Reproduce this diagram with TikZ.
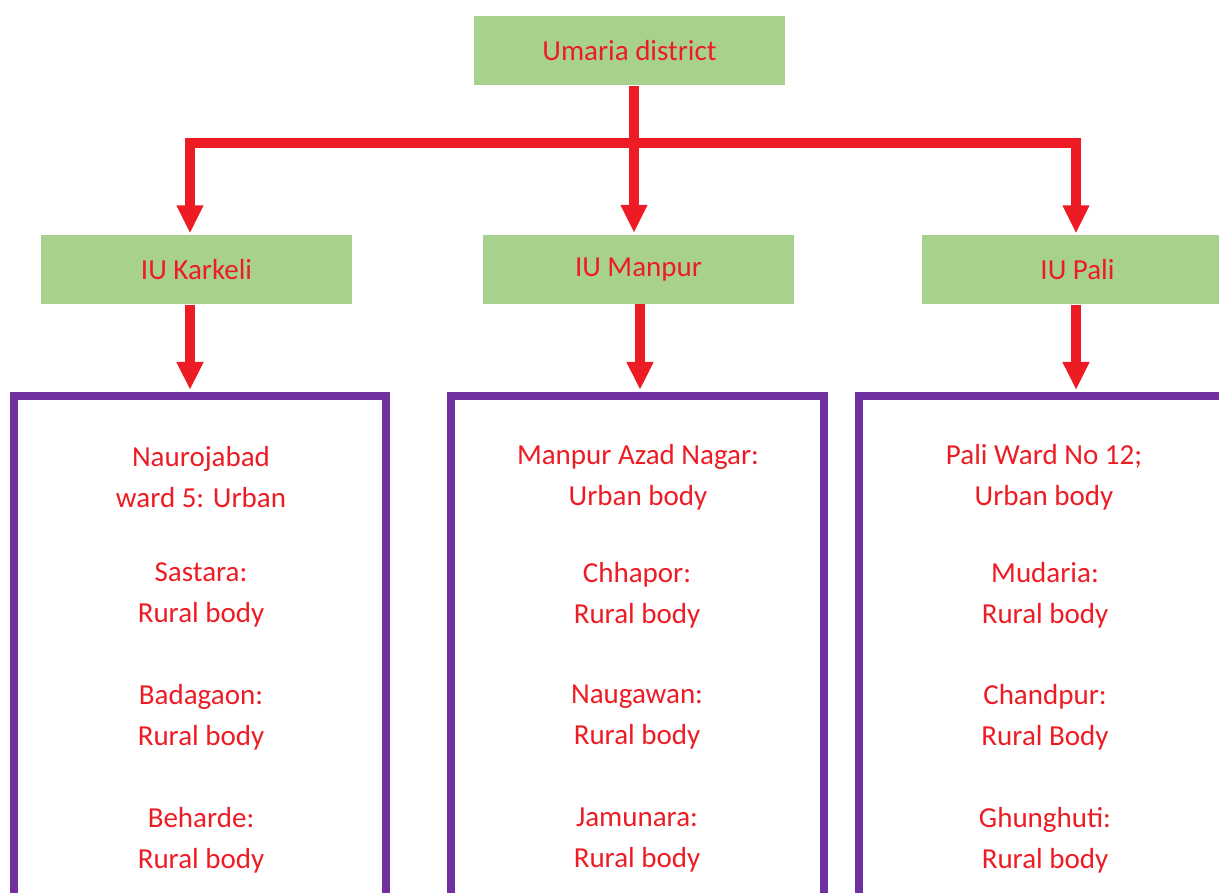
\documentclass[tikz,border=0pt]{standalone}
\usepackage{fontspec}
\setmainfont{Carlito}
\usetikzlibrary{arrows.meta}
\definecolor{tred}{HTML}{ED1C24}
\definecolor{tgreen}{HTML}{A9D18E}
\definecolor{tpurple}{HTML}{7030A0}
\begin{document}
\begin{tikzpicture}[x=1pt,y=-1pt,
  gbox/.style={fill=tgreen, minimum width=311pt, minimum height=69pt, inner sep=0pt, text=tred, font=\fontsize{29}{35}\selectfont},
  pbox/.style={draw=tpurple, line width=8pt, minimum height=700pt, inner sep=0pt},
  entry/.style={text=tred, align=center, font=\fontsize{29}{41}\selectfont, inner sep=0pt},
  conn/.style={draw=tred, line width=10pt, line join=miter, -{Triangle[width=25pt,length=28pt]}},
  link/.style={draw=tred, line width=10pt, line join=miter}
]
\useasboundingbox (0,0) rectangle (1219,893);

% boxes
\node[gbox] (top) at (629.5,51) {Umaria district};
\node[gbox] (karkeli) at (196.5,270) {IU Karkeli};
\node[gbox] (manpur) at (638.5,269.5) {IU Manpur};
\node[gbox] (pali) at (1077.5,270) {IU Pali};

\node[pbox, minimum width=372pt] (pk) at (200,746) {};
\node[pbox, minimum width=373pt] (pm) at (637.5,746) {};
\node[pbox, minimum width=372pt] (pp) at (1045,746) {};

% texts
\node[entry] (k1) at (201,477) {Naurojabad\\ward 5: Urban};
\node[entry] (k2) at (201,595) {Sastara:\\Rural body};
\node[entry] (k3) at (201,717) {Badagaon:\\Rural body};
\node[entry] (k4) at (201,840) {Beharde:\\Rural body};

\node[entry] (m1) at (638,477) {Manpur Azad Nagar:\\Urban body};
\node[entry] (m2) at (637,595) {Chhapor:\\Rural body};
\node[entry] (m3) at (637,717) {Naugawan:\\Rural body};
\node[entry] (m4) at (637,840) {Jamunara:\\Rural body};

\node[entry] (p1) at (1044,477) {Pali Ward No 12;\\Urban body};
\node[entry] (p2) at (1045,595) {Mudaria:\\Rural body};
\node[entry] (p3) at (1045,717) {Chandpur:\\Rural Body};
\node[entry] (p4) at (1045,840) {Ghunghuti:\\Rural body};

% connectors
\coordinate (j) at (634,143);
\coordinate (jl) at (190,143);
\coordinate (jr) at (1076,143);
\draw[conn, shorten >=2pt] (top.south -| j) -- (manpur.north -| j);
\draw[conn, shorten >=2pt] (j) -- (jl) -- (karkeli.north -| jl);
\draw[conn, shorten >=2pt] (j) -- (jr) -- (pali.north -| jr);

\draw[conn, shorten >=2pt] (karkeli.south -| jl) -- (pk.north -| jl);
\draw[conn, shorten >=2pt] ([xshift=1.5pt]manpur.south) -- ([xshift=1.5pt]manpur.south |- pm.north);
\draw[conn, shorten >=2pt] (pali.south -| jr) -- (pp.north -| jr);
\end{tikzpicture}
\end{document}
